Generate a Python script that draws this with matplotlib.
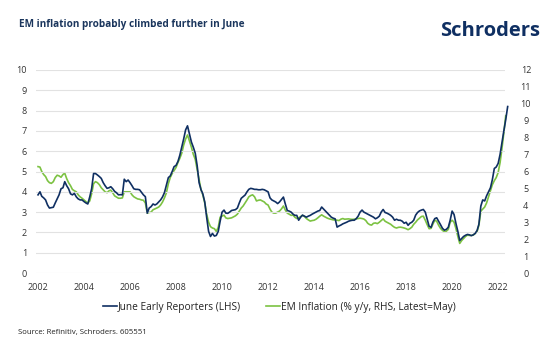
import numpy as np
import pandas as pd
import matplotlib
matplotlib.use("Agg")
from matplotlib import pyplot as plt
import matplotlib.dates as mdates

# June Early Reporters (LHS), monthly, Jan 2002 - Jun 2022
early_reporters = [
    3.85, 4.0, 3.78, 3.7, 3.6, 3.35, 3.2, 3.22, 3.24, 3.45, 3.65, 3.85,      # 2002
    4.15, 4.2, 4.5, 4.3, 4.15, 3.9, 3.85, 3.92, 3.75, 3.65, 3.6, 3.6,        # 2003
    3.52, 3.45, 3.4, 3.75, 4.15, 4.9, 4.9, 4.83, 4.75, 4.66, 4.45, 4.3,      # 2004
    4.17, 4.2, 4.25, 4.15, 4.02, 3.95, 3.85, 3.86, 3.85, 4.62, 4.5, 4.58,    # 2005
    4.45, 4.3, 4.15, 4.12, 4.12, 4.1, 3.98, 3.85, 3.76, 2.95, 3.2, 3.27,     # 2006
    3.4, 3.35, 3.4, 3.5, 3.6, 3.75, 3.96, 4.33, 4.7, 4.78, 5.0, 5.24,        # 2007
    5.3, 5.5, 5.8, 6.2, 6.6, 7.05, 7.25, 6.85, 6.45, 6.2, 5.9, 5.3,          # 2008
    4.45, 4.1, 3.9, 3.5, 2.75, 2.05, 1.8, 1.95, 1.82, 1.85, 2.05, 2.55,      # 2009
    3.0, 3.1, 2.95, 2.94, 3.0, 3.08, 3.1, 3.12, 3.2, 3.45, 3.68, 3.76,       # 2010
    3.84, 4.0, 4.12, 4.17, 4.15, 4.12, 4.12, 4.1, 4.1, 4.12, 4.1, 4.05,      # 2011
    4.0, 3.7, 3.6, 3.55, 3.5, 3.42, 3.5, 3.62, 3.74, 3.4, 3.08, 3.05,        # 2012
    3.0, 2.9, 2.84, 2.84, 2.6, 2.75, 2.85, 2.8, 2.75, 2.8, 2.84, 2.9,        # 2013
    2.95, 3.0, 3.05, 3.08, 3.25, 3.15, 3.05, 2.95, 2.85, 2.75, 2.7, 2.67,    # 2014
    2.26, 2.32, 2.36, 2.42, 2.46, 2.5, 2.55, 2.58, 2.6, 2.6, 2.68, 2.8,      # 2015
    3.0, 3.1, 3.0, 2.95, 2.9, 2.85, 2.8, 2.75, 2.67, 2.72, 2.8, 3.0,         # 2016
    3.13, 2.98, 2.95, 2.9, 2.84, 2.75, 2.6, 2.65, 2.6, 2.6, 2.55, 2.45,      # 2017
    2.5, 2.35, 2.45, 2.5, 2.6, 2.85, 2.98, 3.06, 3.1, 3.13, 3.0, 2.65,       # 2018
    2.3, 2.25, 2.5, 2.68, 2.72, 2.55, 2.38, 2.2, 2.11, 2.15, 2.25, 2.6,      # 2019
    3.05, 2.88, 2.45, 2.05, 1.6, 1.7, 1.8, 1.86, 1.9, 1.88, 1.84, 1.88,      # 2020
    1.95, 2.1, 2.4, 3.3, 3.6, 3.55, 3.8, 4.0, 4.2, 4.6, 5.15, 5.22,          # 2021
    5.4, 5.85, 6.4, 7.0, 7.55, 8.2,                                          # 2022
]

# EM Inflation (% y/y, RHS), monthly, Jan 2002 - May 2022
em_inflation = [
    6.29, 6.26, 6.0, 5.82, 5.7, 5.46, 5.34, 5.3, 5.4, 5.64, 5.78, 5.74,      # 2002
    5.66, 5.82, 5.9, 5.58, 5.34, 5.16, 4.94, 4.86, 4.8, 4.62, 4.5, 4.42,     # 2003
    4.32, 4.22, 4.14, 4.26, 4.68, 5.28, 5.4, 5.34, 5.22, 5.04, 4.92, 4.8,    # 2004
    4.75, 4.86, 4.9, 4.74, 4.56, 4.49, 4.42, 4.42, 4.44, 4.8, 4.8, 4.8,      # 2005
    4.8, 4.62, 4.51, 4.44, 4.38, 4.36, 4.32, 4.3, 4.14, 3.54, 3.58, 3.6,     # 2006
    3.74, 3.79, 3.84, 3.9, 4.02, 4.2, 4.44, 4.74, 5.28, 5.64, 5.88, 6.06,    # 2007
    6.24, 6.54, 6.78, 7.08, 7.56, 7.92, 8.16, 7.8, 7.44, 7.02, 6.72, 6.12,   # 2008
    5.52, 4.92, 4.62, 4.14, 3.48, 3.0, 2.74, 2.66, 2.62, 2.46, 2.7, 3.3,     # 2009
    3.36, 3.42, 3.26, 3.22, 3.24, 3.26, 3.32, 3.38, 3.48, 3.66, 3.84, 3.96,  # 2010
    4.14, 4.32, 4.5, 4.58, 4.62, 4.5, 4.26, 4.3, 4.32, 4.26, 4.2, 4.08,      # 2011
    4.02, 3.78, 3.6, 3.54, 3.54, 3.6, 3.66, 3.79, 3.96, 3.72, 3.54, 3.48,    # 2012
    3.41, 3.42, 3.3, 3.22, 3.26, 3.34, 3.41, 3.34, 3.22, 3.14, 3.07, 3.1,    # 2013
    3.12, 3.18, 3.26, 3.36, 3.44, 3.36, 3.3, 3.24, 3.2, 3.17, 3.14, 3.14,    # 2014
    3.12, 3.1, 3.18, 3.22, 3.18, 3.19, 3.2, 3.18, 3.17, 3.18, 3.2, 3.22,     # 2015
    3.24, 3.22, 3.19, 3.1, 2.94, 2.86, 2.83, 2.94, 2.96, 2.92, 3.0, 3.1,     # 2016
    3.2, 3.06, 3.0, 2.94, 2.88, 2.78, 2.7, 2.66, 2.7, 2.71, 2.69, 2.66,      # 2017
    2.62, 2.56, 2.62, 2.71, 2.88, 3.0, 3.14, 3.24, 3.34, 3.36, 3.12, 2.86,   # 2018
    2.62, 2.64, 2.88, 3.12, 3.06, 2.82, 2.64, 2.52, 2.44, 2.47, 2.58, 3.0,   # 2019
    3.12, 3.0, 2.64, 2.16, 1.75, 1.92, 2.04, 2.16, 2.24, 2.22, 2.22, 2.24,   # 2020
    2.34, 2.46, 2.82, 3.66, 3.78, 3.9, 4.14, 4.5, 4.86, 5.22, 5.46, 5.64,    # 2021
    5.94, 6.54, 7.32, 8.28, 9.3,                                             # 2022
]

tick_years = list(range(2002, 2023, 2))
left_ticks = list(range(0, 11))
right_ticks = list(range(0, 13))

navy = "#0f2f62"
green = "#7cc242"
text_col = "#333333"

plt.rcParams["font.family"] = ["Open Sans", "DejaVu Sans"]

dates_blue = pd.date_range("2002-01-01", periods=len(early_reporters), freq="MS")
dates_green = pd.date_range("2002-01-01", periods=len(em_inflation), freq="MS")

fig = plt.figure(figsize=(5.54, 3.53), dpi=100)
ax = fig.add_axes([0.065, 0.2266, 0.8466, 0.5751])
ax2 = ax.twinx()

ax.plot(dates_blue, early_reporters, color=navy, lw=1.2, clip_on=False, zorder=3,
        label="June Early Reporters (LHS)")
ax2.plot(dates_green, em_inflation, color=green, lw=1.2, clip_on=False, zorder=2,
         label="EM Inflation (% y/y, RHS, Latest=May)")

# blue above green
ax.set_zorder(ax2.get_zorder() + 1)
ax.patch.set_visible(False)

ax.set_ylim(0, 10)
ax2.set_ylim(0, 12)
ax.set_yticks(left_ticks)
ax2.set_yticks(right_ticks)
ax.set_xlim(pd.Timestamp("2001-11-30"), pd.Timestamp("2022-04-20"))
ax.set_xticks([pd.Timestamp(f"{y}-01-01") for y in tick_years])
ax.xaxis.set_major_formatter(mdates.DateFormatter("%Y"))

ax.grid(axis="y", color="#e2e2e2", lw=0.8)
ax.set_axisbelow(True)
for a in (ax, ax2):
    for s in a.spines.values():
        s.set_visible(False)
ax.tick_params(axis="y", length=0, pad=6.5, labelsize=6.5, labelcolor=text_col)
ax.tick_params(axis="x", length=0, pad=7, labelsize=6.5, labelcolor=text_col)
ax2.tick_params(axis="y", length=0, pad=15, labelsize=6.5, labelcolor=text_col)
for lab in ax2.get_yticklabels():
    lab.set_horizontalalignment("center")

fig.text(0.0334, 0.932, "EM inflation probably climbed further in June",
         fontsize=7.2, fontweight="bold", color="#1b365d", va="center", ha="left")
fig.text(0.975, 0.912, "Schroders", fontsize=14.5, fontweight="bold",
         color="#0f2f62", va="center", ha="right")

h1, l1 = ax.get_legend_handles_labels()
h2, l2 = ax2.get_legend_handles_labels()
fig.legend(h1 + h2, l1 + l2, loc="center", bbox_to_anchor=(0.504, 0.129), ncol=2,
           frameon=False, fontsize=7.3, handlelength=1.4, handletextpad=0.1,
           columnspacing=2.4, labelcolor="#222222")

fig.text(0.0323, 0.0567, "Source: Refinitiv, Schroders. 605551", fontsize=5.6,
         color="#222222", va="center", ha="left")

fig.savefig("out.png", dpi=100)
